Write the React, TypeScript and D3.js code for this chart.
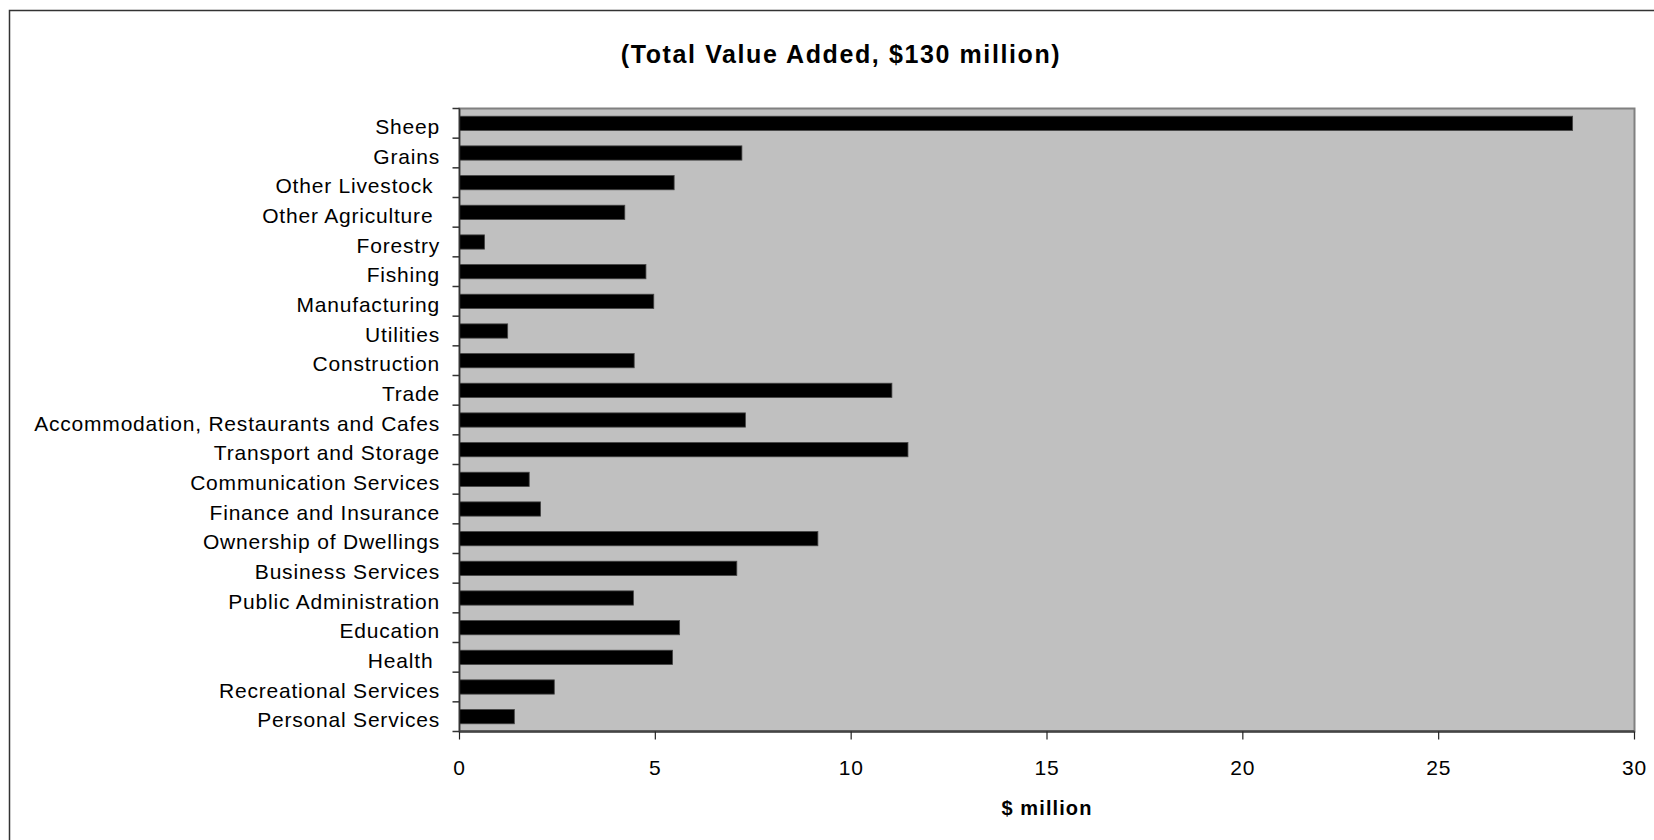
import React from "react";
import * as d3 from "d3";

const categories: string[] = [
  "Sheep",
  "Grains",
  "Other Livestock ",
  "Other Agriculture ",
  "Forestry",
  "Fishing",
  "Manufacturing",
  "Utilities",
  "Construction",
  "Trade",
  "Accommodation, Restaurants and Cafes",
  "Transport and Storage",
  "Communication Services",
  "Finance and Insurance",
  "Ownership of Dwellings",
  "Business Services",
  "Public Administration",
  "Education",
  "Health ",
  "Recreational Services",
  "Personal Services",
];

const values: number[] = [
  28.42, 7.21, 5.48, 4.22, 0.64, 4.76, 4.96, 1.23, 4.46, 11.04, 7.3, 11.45,
  1.78, 2.07, 9.15, 7.08, 4.44, 5.62, 5.44, 2.42, 1.4,
];

const xTicks: number[] = [0, 5, 10, 15, 20, 25, 30];

const title = "(Total Value Added, $130 million)";
const xTitle = "$ million";

const W = 1654;
const H = 840;
const plot = { left: 459.5, right: 1634.5, top: 108.5, bottom: 731.5 };
const FONT = "'Liberation Sans', Arial, Helvetica, sans-serif";

export default function App() {
  const x = d3.scaleLinear().domain([0, 30]).range([plot.left, plot.right]);
  const y = d3
    .scaleBand<string>()
    .domain(categories)
    .range([plot.top, plot.bottom])
    .paddingInner(0.52)
    .paddingOuter(0.26);
  const step = (plot.bottom - plot.top) / categories.length;
  const boundaries = d3.range(categories.length + 1).map((i) => plot.top + i * step);

  return (
    <svg
      width={W}
      height={H}
      style={{ position: "absolute", left: 0, top: 0, display: "block", background: "#fff" }}
    >
      {/* outer frame */}
      <rect x={9.5} y={10.5} width={1700} height={900} fill="#fff" stroke="#333" strokeWidth={1.5} />

      {/* title */}
      <text
        x={841}
        y={63}
        textAnchor="middle"
        fontFamily={FONT}
        fontWeight="bold"
        fontSize={25}
        letterSpacing={1.6}
        fill="#000"
      >
        {title}
      </text>

      {/* plot area */}
      <rect
        x={plot.left}
        y={plot.top}
        width={plot.right - plot.left}
        height={plot.bottom - plot.top}
        fill="#c0c0c0"
        stroke="#808080"
        strokeWidth={2}
      />

      {/* bars */}
      {categories.map((c, i) => (
        <rect
          key={c}
          x={x(0)}
          y={y(c)!}
          width={x(values[i]) - x(0)}
          height={y.bandwidth()}
          fill="#000"
          stroke="#444"
          strokeWidth={0.8}
        />
      ))}

      {/* y axis */}
      <line x1={plot.left} x2={plot.left} y1={plot.top} y2={plot.bottom} stroke="#333" strokeWidth={1.5} />
      {boundaries.map((b, i) => (
        <line key={i} x1={plot.left - 7} x2={plot.left} y1={b} y2={b} stroke="#333" strokeWidth={1.5} />
      ))}
      {categories.map((c) => (
        <text
          key={c}
          x={440}
          y={y(c)! + y.bandwidth() / 2 + 10.5}
          textAnchor="end"
          fontFamily={FONT}
          fontSize={21}
          letterSpacing={0.8}
          fill="#000"
          style={{ whiteSpace: "pre" }}
        >
          {c}
        </text>
      ))}

      {/* x axis */}
      <line x1={plot.left} x2={plot.right} y1={plot.bottom} y2={plot.bottom} stroke="#444" strokeWidth={2.5} />
      {xTicks.map((t) => (
        <g key={t}>
          <line x1={x(t)} x2={x(t)} y1={plot.bottom} y2={plot.bottom + 8} stroke="#222" strokeWidth={1.2} />
          <text
            x={x(t)}
            y={775}
            textAnchor="middle"
            fontFamily={FONT}
            fontSize={21}
            letterSpacing={0.8}
            fill="#000"
          >
            {t}
          </text>
        </g>
      ))}
      <text
        x={(plot.left + plot.right) / 2}
        y={815}
        textAnchor="middle"
        fontFamily={FONT}
        fontWeight="bold"
        fontSize={20}
        letterSpacing={1.1}
        fill="#000"
      >
        {xTitle}
      </text>
    </svg>
  );
}
